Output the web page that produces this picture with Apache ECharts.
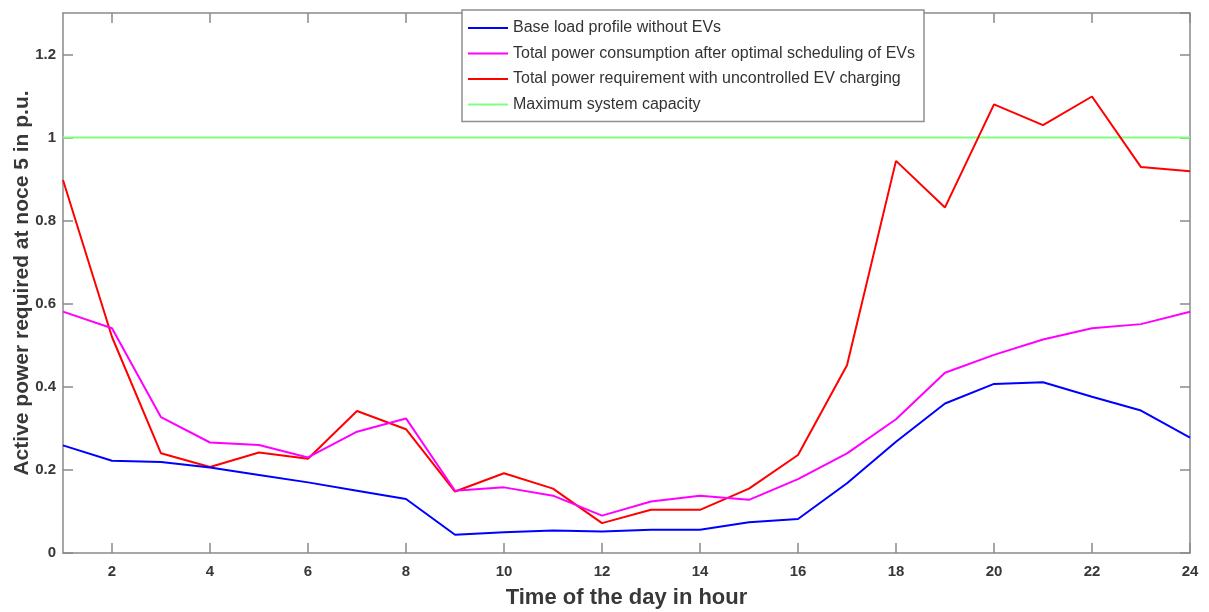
<!DOCTYPE html>
<html>
<head>
<meta charset="utf-8">
<script src="https://cdn.jsdelivr.net/npm/echarts@6/dist/echarts.min.js"></script>
<style>
  html, body { margin: 0; padding: 0; background: #fff; }
  #chart { width: 1209px; height: 612px; }
</style>
</head>
<body>
<div id="chart"></div>
<script>
// hours of the day
const hours = ['1','2','3','4','5','6','7','8','9','10','11','12','13','14','15','16','17','18','19','20','21','22','23','24']

// values (p.u.)
const baseLoad = [0.259, 0.222, 0.219, 0.206, 0.188, 0.170, 0.150, 0.130, 0.044, 0.050, 0.054, 0.052,
  0.056, 0.056, 0.074, 0.082, 0.168, 0.268, 0.360, 0.407, 0.411, 0.376, 0.343, 0.278]
const optimal = [0.581, 0.541, 0.327, 0.266, 0.260, 0.230, 0.292, 0.324, 0.150, 0.158, 0.138, 0.090,
  0.124, 0.138, 0.128, 0.178, 0.240, 0.322, 0.434, 0.477, 0.514, 0.541, 0.551, 0.581]
const uncontrolled = [0.898, 0.520, 0.240, 0.207, 0.242, 0.227, 0.342, 0.298, 0.148, 0.192, 0.155, 0.072,
  0.104, 0.104, 0.155, 0.236, 0.452, 0.944, 0.832, 1.080, 1.030, 1.099, 0.929, 0.919]
const capacity = hours.map(() => 1)

const seriesNames = [
  'Base load profile without EVs',
  'Total power consumption after optimal scheduling of EVs',
  'Total power requirement with uncontrolled EV charging',
  'Maximum system capacity',
]
const colors = ['#0000ff', '#ff00ff', '#ff0000', '#80ff80']

const FONT = "'Liberation Sans', Arial, sans-serif"
const AXIS_GREY = '#8a8a8a'
const LABEL = '#383838'

const chart = echarts.init(document.getElementById('chart'), null, { renderer: 'canvas' })

const evenOnly = (i) => i % 2 === 1
const boxLine = { onZero: false, lineStyle: { color: AXIS_GREY, width: 1.5 } }
const inTick = { show: true, inside: true, length: 10, lineStyle: { color: AXIS_GREY, width: 1.5 } }

chart.setOption({
  animation: false,
  backgroundColor: '#fff',
  grid: { left: 63, right: 19, top: 13, bottom: 59, containLabel: false, outerBoundsMode: 'none' },
  legend: {
    orient: 'vertical',
    left: 462,
    top: 10,
    padding: [10, 9, 9, 6],
    itemGap: 9.5,
    itemWidth: 40,
    itemHeight: 2,
    icon: 'rect',
    borderColor: '#8f8f8f',
    borderWidth: 1.5,
    backgroundColor: '#fff',
    textStyle: { fontFamily: FONT, fontSize: 16, color: '#333' },
    data: seriesNames,
  },
  xAxis: [
    {
      type: 'category',
      data: hours,
      boundaryGap: false,
      name: 'Time of the day in hour',
      nameLocation: 'middle',
      nameGap: 34,
      nameTextStyle: { fontFamily: FONT, fontSize: 22, fontWeight: 'bold', color: LABEL },
      axisLine: boxLine,
      axisTick: { ...inTick, interval: evenOnly },
      axisLabel: { interval: evenOnly, margin: 11, fontFamily: FONT, fontSize: 15, fontWeight: 'bold', color: LABEL },
      splitLine: { show: false },
    },
    {
      type: 'category',
      data: hours,
      boundaryGap: false,
      position: 'top',
      axisLine: boxLine,
      axisTick: { ...inTick, interval: evenOnly },
      axisLabel: { show: false },
      splitLine: { show: false },
    },
  ],
  yAxis: [
    {
      type: 'value',
      min: 0,
      max: 1.3,
      interval: 0.2,
      name: 'Active power required at noce 5 in p.u.',
      nameLocation: 'middle',
      nameGap: 30,
      nameMoveOverlap: false,
      nameTextStyle: { fontFamily: FONT, fontSize: 21, fontWeight: 'bold', color: LABEL },
      axisLine: { show: true, ...boxLine },
      axisTick: inTick,
      axisLabel: { showMaxLabel: false, margin: 7, fontFamily: FONT, fontSize: 15, fontWeight: 'bold', color: LABEL },
      splitLine: { show: false },
    },
    {
      type: 'value',
      min: 0,
      max: 1.3,
      interval: 0.2,
      position: 'right',
      axisLine: { show: true, ...boxLine },
      axisTick: inTick,
      axisLabel: { show: false },
      splitLine: { show: false },
    },
  ],
  series: [baseLoad, optimal, uncontrolled, capacity].map((data, i) => ({
    name: seriesNames[i],
    type: 'line',
    data,
    symbol: 'none',
    itemStyle: { color: colors[i] },
    lineStyle: { color: colors[i], width: 2 },
    z: i === 3 ? 1 : 5 - i,
  })),
})
</script>
</body>
</html>
